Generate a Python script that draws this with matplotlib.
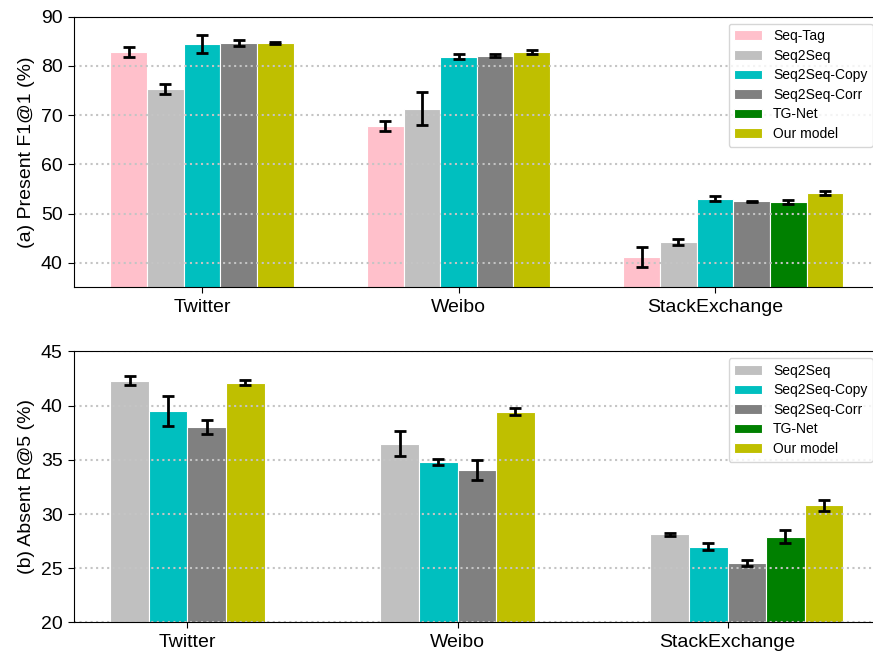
import matplotlib
matplotlib.use("Agg")
import numpy as np
import matplotlib.pyplot as plt

plt.rcParams["font.family"] = ["Liberation Sans", "DejaVu Sans"]

datasets = ["Twitter", "Weibo", "StackExchange"]
models = ["Seq-Tag", "Seq2Seq", "Seq2Seq-Copy", "Seq2Seq-Corr", "TG-Net", "Our model"]
colors = ["pink", "silver", "c", "gray", "g", "y"]

# (a) present F1@1, None = not reported
present_mean = [
    [82.8, 67.8, 41.2],   # Seq-Tag
    [75.3, 71.3, 44.2],   # Seq2Seq
    [84.5, 81.9, 53.0],   # Seq2Seq-Copy
    [84.6, 82.1, 52.5],   # Seq2Seq-Corr
    [None, None, 52.4],   # TG-Net
    [84.7, 82.9, 54.2],   # Our model
]
present_err = [
    [1.05, 1.1, 2.1],
    [1.08, 3.4, 0.65],
    [1.85, 0.55, 0.5],
    [0.6, 0.3, 0.15],
    [None, None, 0.35],
    [0.15, 0.4, 0.35],
]

# (b) absent R@5, Seq-Tag not shown
absent_mean = [
    [None, None, None],
    [42.3, 36.5, 28.15],
    [39.5, 34.8, 27.0],
    [38.0, 34.05, 25.5],
    [None, None, 27.9],
    [42.1, 39.45, 30.8],
]
absent_err = [
    [None, None, None],
    [0.45, 1.12, 0.14],
    [1.35, 0.3, 0.3],
    [0.63, 0.92, 0.28],
    [None, None, 0.6],
    [0.23, 0.32, 0.52],
]

width = 1 / 7


def draw_panel(ax, means, errs, shift, ylabel, ylim, yticks):
    x = np.arange(len(datasets))
    drawn = set()
    for d in range(len(datasets)):
        k = 0
        for m in range(len(models)):
            if means[m][d] is None:
                continue
            ax.bar(x[d] + (k - shift) * width, means[m][d], width,
                   yerr=errs[m][d], color=colors[m], edgecolor="white",
                   linewidth=0.8, capsize=4.5,
                   error_kw=dict(elinewidth=2, capthick=2, ecolor="black", zorder=4),
                   label=models[m] if m not in drawn else None, zorder=2)
            drawn.add(m)
            k += 1
    ax.set_xticks(x)
    ax.set_xticklabels(datasets, fontsize=14)
    ax.set_ylim(*ylim)
    ax.set_yticks(yticks)
    ax.tick_params(axis="y", labelsize=14, length=4.5)
    ax.tick_params(axis="x", length=4.5)
    ax.set_ylabel(ylabel, fontsize=14)
    # grid is drawn over the bars, like the original
    ax.set_axisbelow(False)
    ax.yaxis.grid(True, linestyle=":", color="#c4c4c4", linewidth=1.5)
    for sp in ax.spines.values():
        sp.set_zorder(6)
    handles, labels = ax.get_legend_handles_labels()
    order = [labels.index(m) for m in models if m in labels]
    leg = ax.legend([handles[i] for i in order], [labels[i] for i in order],
                    loc="upper right", fontsize=10, labelspacing=0.4)
    leg.set_zorder(5)


fig = plt.figure(figsize=(8.73, 6.54), dpi=100)
ax1 = fig.add_axes([0.0844, 0.5604, 0.9236, 0.4141])
ax2 = fig.add_axes([0.0844, 0.0482, 0.9236, 0.4146])

draw_panel(ax1, present_mean, present_err, 2, "(a) Present F1@1 (%)",
           (35, 90), [40, 50, 60, 70, 80, 90])
draw_panel(ax2, absent_mean, absent_err, 1.5, "(b) Absent R@5 (%)",
           (20, 45), [20, 25, 30, 35, 40, 45])

fig.savefig("out.png", dpi=100)
